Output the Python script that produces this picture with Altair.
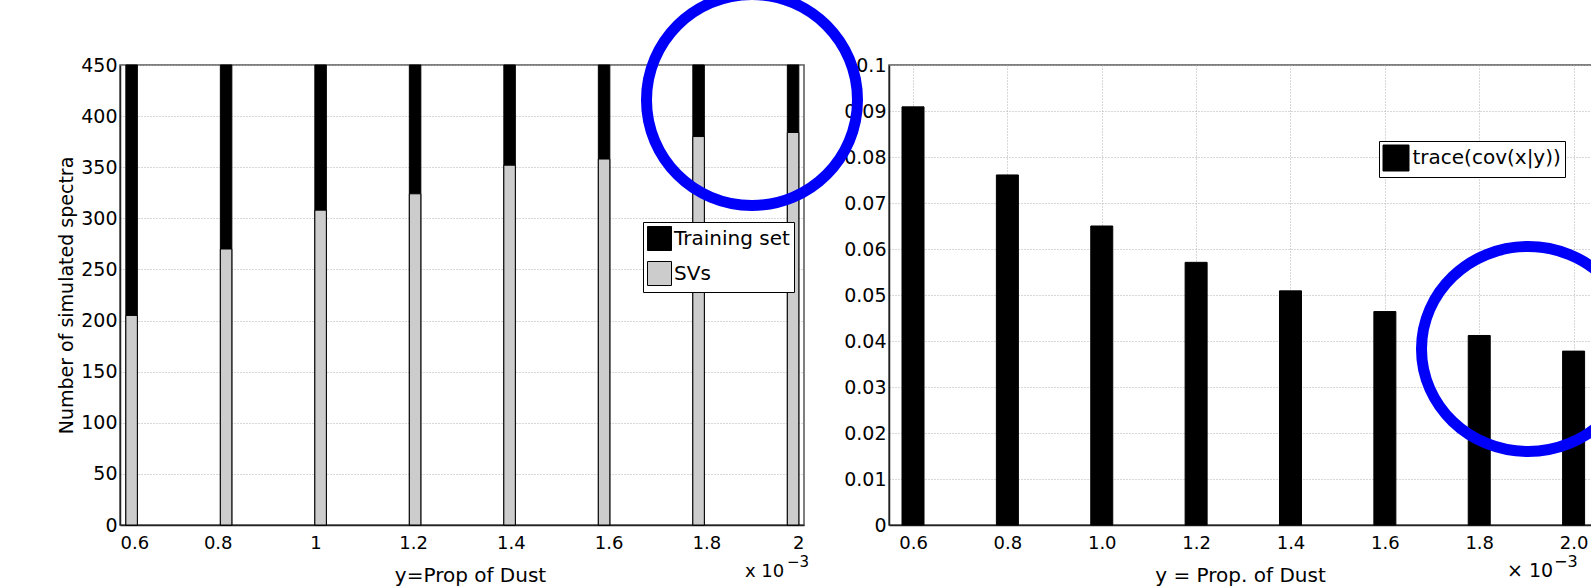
import altair as alt
import pandas as pd

# ---------------- data ----------------
x_vals = [0.6, 0.8, 1.0, 1.2, 1.4, 1.6, 1.8, 2.0]
training_set = [450, 450, 450, 450, 450, 450, 450, 450]
svs = [205, 270, 308, 324, 352, 358, 380, 384]
trace_cov = [0.0909, 0.0761, 0.0650, 0.0571, 0.0509, 0.0464, 0.0412, 0.0378]

left_y_ticks = [0, 50, 100, 150, 200, 250, 300, 350, 400, 450]
right_y_ticks = [0, 0.01, 0.02, 0.03, 0.04, 0.05, 0.06, 0.07, 0.08, 0.09, 0.1]
x_ticks = [0.6, 0.8, 1.0, 1.2, 1.4, 1.6, 1.8, 2.0]

series_names = ["Training set", "SVs"]
series_colors = ["#000000", "#cccccc"]
right_series = ["trace(cov(x|y))"]

FONT = "DejaVu Sans"
BLUE = "#0000fa"

left_df = pd.DataFrame({
    "x": x_vals + x_vals,
    "series": [series_names[0]] * len(x_vals) + [series_names[1]] * len(x_vals),
    "value": training_set + svs,
    "ord": [0] * len(x_vals) + [1] * len(x_vals),
})
right_df = pd.DataFrame({
    "x": x_vals,
    "series": right_series * len(x_vals),
    "value": trace_cov,
})
tick_df = pd.DataFrame({"t": x_ticks})
one = pd.DataFrame({"k": [0]})

LW, LH = 684, 460
RW, RH = 708, 460

# ---------------- left panel ----------------
bars_left = alt.Chart(left_df).mark_bar(size=11.5, stroke="black", strokeWidth=1).encode(
    x=alt.X("x:Q", scale=alt.Scale(domain=[0.58603, 2.01252], nice=False, zero=False), axis=None),
    y=alt.Y("value:Q", stack=None,
            scale=alt.Scale(domain=[0, 450], nice=False),
            axis=alt.Axis(values=left_y_ticks, title="Number of simulated spectra",
                          grid=True, labelFontSize=19, labelPadding=3,
                          titleFontSize=19, titleX=-48, titleY=LH / 2,
                          titleBaseline="alphabetic", titleAngle=-90, titleAlign="center")),
    color=alt.Color("series:N",
                    scale=alt.Scale(domain=series_names, range=series_colors),
                    legend=alt.Legend(orient="none", legendX=523, legendY=157, title=None,
                                      fillColor="white", strokeColor="black", padding=4,
                                      symbolType="square", symbolSize=576,
                                      symbolStrokeColor="black", symbolStrokeWidth=1,
                                      labelFontSize=20, labelOffset=2, rowPadding=6,
                                      labelLimit=300, cornerRadius=0)),
    order=alt.Order("ord:Q"),
)

axis_left = alt.Chart(tick_df).mark_point(opacity=0).encode(
    x=alt.X("t:Q", scale=alt.Scale(domain=[0.6, 2.0], nice=False, zero=False),
            axis=alt.Axis(values=x_ticks, format="~g", title="y=Prop of Dust",
                          labelFontSize=18, labelPadding=9, grid=False,
                          titleFontSize=20, titleX=350, titleY=56,
                          titleBaseline="alphabetic", titleAlign="center")),
)

x10_left = alt.Chart(one).mark_text(text="x 10", font=FONT, fontSize=18, align="left",
                                    baseline="alphabetic", color="black").encode(
    x=alt.value(625), y=alt.value(512))
exp_left = alt.Chart(one).mark_text(text="\u22123", font=FONT, fontSize=15, align="left",
                                    baseline="alphabetic", color="black").encode(
    x=alt.value(667), y=alt.value(502))

left = alt.layer(bars_left, axis_left, x10_left, exp_left).resolve_scale(
    x="independent").properties(width=LW, height=LH)

# ---------------- right panel ----------------
bars_right = alt.Chart(right_df).mark_bar(size=22, stroke="black", strokeWidth=1).encode(
    x=alt.X("x:Q", scale=alt.Scale(domain=[0.5597, 2.0390], nice=False, zero=False),
            axis=alt.Axis(values=x_ticks, format=".1f", title="y = Prop. of Dust",
                          labelFontSize=18, labelPadding=9, grid=True,
                          titleFontSize=20, titleX=351, titleY=56,
                          titleBaseline="alphabetic", titleAlign="center")),
    y=alt.Y("value:Q", scale=alt.Scale(domain=[0, 0.1], nice=False),
            axis=alt.Axis(values=right_y_ticks, format="~g", title=None, grid=True,
                          labelFontSize=19, labelPadding=3)),
    color=alt.Color("series:N",
                    scale=alt.Scale(domain=right_series, range=["#000000"]),
                    legend=alt.Legend(orient="none", legendX=490, legendY=76, title=None,
                                      fillColor="white", strokeColor="black", padding=3.5,
                                      symbolType="square", symbolSize=676,
                                      symbolStrokeColor="black", symbolStrokeWidth=1,
                                      labelFontSize=20, labelOffset=3,
                                      labelLimit=300, cornerRadius=0)),
)

x10_right = alt.Chart(one).mark_text(text="\u00d7 10", font=FONT, fontSize=19, align="left",
                                     baseline="alphabetic", color="black").encode(
    x=alt.value(618), y=alt.value(512))
exp_right = alt.Chart(one).mark_text(text="\u22123", font=FONT, fontSize=16, align="left",
                                     baseline="alphabetic", color="black").encode(
    x=alt.value(665), y=alt.value(502))

# blue highlight rings (annotations)
ring1_path = "M -1 0 A 1 1 0 1 1 1 0 A 1 1 0 1 1 -1 0 Z"
ring2_path = "M -1.039 0 A 1.039 1 0 1 1 1.039 0 A 1.039 1 0 1 1 -1.039 0 Z"
ring1 = alt.Chart(one).mark_point(shape=ring1_path, filled=False, stroke=BLUE,
                                  strokeWidth=11, opacity=1).encode(
    x=alt.value(-137), y=alt.value(35), size=alt.value(44521))
ring2 = alt.Chart(one).mark_point(shape=ring2_path, filled=False, stroke=BLUE,
                                  strokeWidth=11, opacity=1).encode(
    x=alt.value(639), y=alt.value(284), size=alt.value(42025))

right = alt.layer(bars_right, x10_right, exp_right, ring1, ring2).properties(
    width=RW, height=RH)

chart = alt.hconcat(left, right, spacing=85, bounds="flush").resolve_scale(
    color="independent"
).resolve_legend(
    color="independent"
).properties(
    autosize=alt.AutoSizeParams(type="none"),
    padding={"left": 120, "top": 65, "right": 1471, "bottom": 521},
    background="white",
).configure_axis(
    labelFont=FONT, titleFont=FONT, labelColor="black", titleColor="black",
    titleFontWeight="normal", domainColor="#222222", domainWidth=1.5,
    ticks=False, gridColor="#b0b0b0", gridDash=[1, 2], gridWidth=1,
).configure_legend(
    labelFont=FONT, labelColor="black",
).configure_view(
    stroke="#555555", strokeWidth=1.5,
)

chart.save("out.html", embed_options={"renderer": "svg", "actions": False})
